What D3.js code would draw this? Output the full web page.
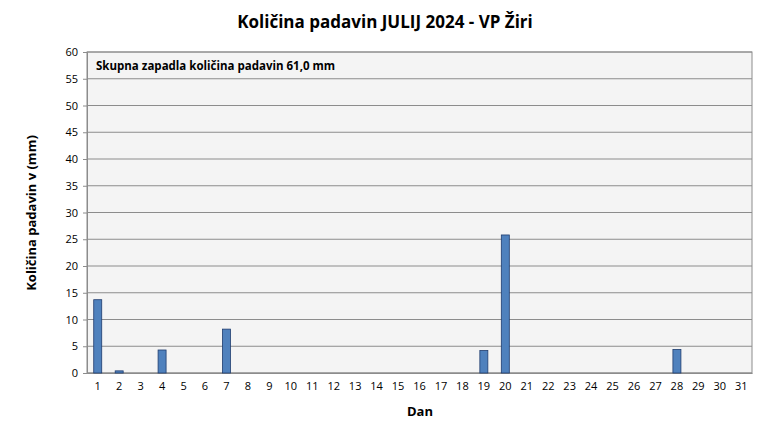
<!DOCTYPE html>
<html>
<head>
<meta charset="utf-8">
<script src="https://cdn.jsdelivr.net/npm/d3@7"></script>
<style>
body { margin: 0; background: #fff; }
text { font-family: "Open Sans", "Liberation Sans", sans-serif; }
</style>
</head>
<body>
<svg id="chart" width="770" height="439"></svg>
<script>
// daily rainfall, July 2024
var days = d3.range(1, 32);
var rain = [13.7, 0.4, 0, 4.3, 0, 0, 8.2, 0, 0, 0, 0, 0, 0, 0, 0, 0, 0, 0, 4.2, 25.8,
            0, 0, 0, 0, 0, 0, 0, 4.4, 0, 0, 0];
var yTicks = d3.range(0, 61, 5);

var svg = d3.select("#chart");
var m = { left: 87, right: 752, top: 52, bottom: 373 };

var x = d3.scaleBand().domain(days).range([m.left, m.right]);
var y = d3.scaleLinear().domain([0, 60]).range([m.bottom, m.top]);

svg.append("rect")
    .attr("x", m.left).attr("y", m.top)
    .attr("width", m.right - m.left).attr("height", m.bottom - m.top)
    .attr("fill", "#f4f4f4").attr("stroke", "#8c8c8c");

// grid
svg.append("g").selectAll("line").data(yTicks).enter().append("line")
    .attr("x1", m.left).attr("x2", m.right)
    .attr("y1", function (d) { return y(d); }).attr("y2", function (d) { return y(d); })
    .attr("stroke", "#8c8c8c").attr("stroke-width", 1);

// y axis
var ya = svg.append("g").attr("transform", "translate(" + m.left + ",0)")
    .call(d3.axisLeft(y).tickValues(yTicks).tickSize(4).tickPadding(5));
ya.select(".domain").attr("stroke", "#8c8c8c");
ya.selectAll("line").attr("stroke", "#8c8c8c");
ya.selectAll("text").attr("font-size", 11).attr("fill", "#000");

// x axis
var xa = svg.append("g").attr("transform", "translate(0," + m.bottom + ")")
    .call(d3.axisBottom(x).tickSize(0).tickPadding(9));
xa.select(".domain").attr("stroke", "#8c8c8c");
xa.selectAll("text").attr("font-size", 11).attr("fill", "#000");

// bars
var bw = 8;
svg.append("g").selectAll("rect")
    .data(days.map(function (d, i) { return { day: d, v: rain[i] }; }).filter(function (d) { return d.v > 0; }))
    .enter().append("rect")
    .attr("x", function (d) { return x(d.day) + x.bandwidth() / 2 - bw / 2; })
    .attr("y", function (d) { return y(d.v); })
    .attr("width", bw)
    .attr("height", function (d) { return y(0) - y(d.v); })
    .attr("fill", "#4f81bd").attr("stroke", "#1f3c6e").attr("stroke-width", 0.8);

// texts
svg.append("text").attr("x", 385).attr("y", 28).attr("text-anchor", "middle")
    .attr("font-size", 17).attr("font-weight", "bold").text("Količina padavin JULIJ 2024 - VP Žiri");
svg.append("text").attr("x", 96).attr("y", 70)
    .attr("font-size", 11.5).attr("font-weight", "bold").text("Skupna zapadla količina padavin 61,0 mm");
svg.append("text").attr("x", 420).attr("y", 416).attr("text-anchor", "middle")
    .attr("font-size", 13).attr("font-weight", "bold").text("Dan");
svg.append("text").attr("transform", "translate(36,213) rotate(-90)").attr("text-anchor", "middle")
    .attr("font-size", 13).attr("font-weight", "bold").text("Količina padavin v  (mm)");
</script>
</body>
</html>
